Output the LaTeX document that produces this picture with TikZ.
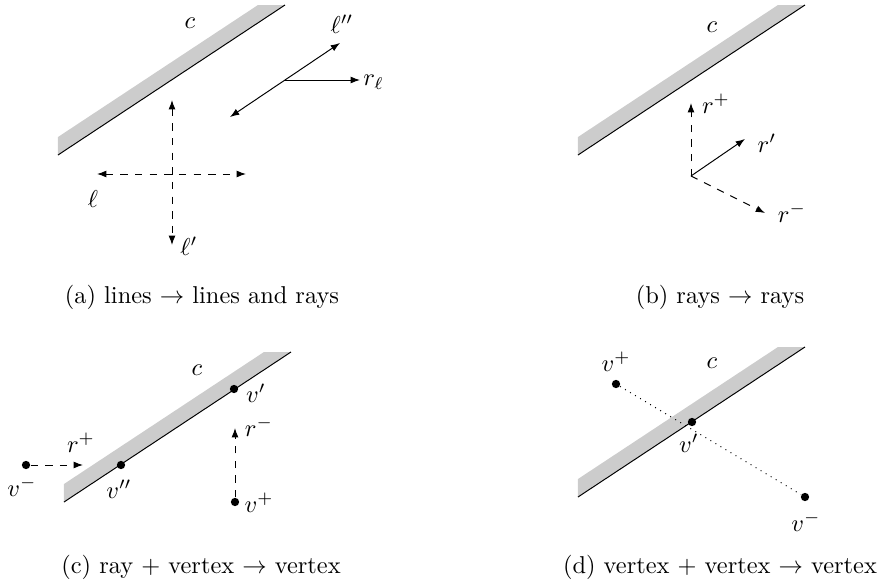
\documentclass[tikz,border=0pt]{standalone}
\usetikzlibrary{arrows.meta}
\begin{document}
\begin{tikzpicture}[x=0.41pt,y=-0.41pt,
  edgeline/.style={line width=0.4pt},
  vdot/.style={circle,fill=black,inner sep=0pt,minimum size=3.4pt},
  lbl/.style={inner sep=0pt},
  arr/.style={-{Latex[length=3.8pt,width=2.8pt]}},
  darr/.style={{Latex[length=3.8pt,width=2.8pt]}-{Latex[length=3.8pt,width=2.8pt]}},
  captxt/.style={inner sep=0pt}]
\useasboundingbox (0,0) rectangle (880,583);
% strip pic
\tikzset{strip/.pic={
  \fill[black!20] (58,155) -- (285,5) -- (258,5) -- (58,137) -- cycle;
  \draw[edgeline] (58,155) -- (285,5);
}}
% (a)
\pic at (0,0) {strip};
\node[lbl] (ca) at (190,23) {$c$};
\coordinate (l2a) at (230,117);
\coordinate (l2b) at (340,43);
\coordinate (rlo) at (285,80);
\coordinate (rlt) at (360,80);
\draw[darr] (l2a) -- (l2b);
\draw[arr] (rlo) -- (rlt);
\node[lbl] (l2) at (342,24) {$\ell''$};
\node[lbl,anchor=west] (rl) at (363,82) {$r_\ell$};
\coordinate (lva) at (172,100);
\coordinate (lvb) at (172,245);
\coordinate (lha) at (97,174);
\coordinate (lhb) at (246,174);
\draw[darr,dashed] (lva) -- (lvb);
\draw[darr,dashed] (lha) -- (lhb);
\node[lbl] (l) at (93,199) {$\ell$};
\node[lbl] (l1) at (189,246) {$\ell'$};
\node[captxt] (capa) at (202,297) {(a) lines $\rightarrow$ lines and rays};
% (b)
\pic at (520,0) {strip};
\node[lbl] (cb) at (712,27) {$c$};
\coordinate (o) at (691,176);
\coordinate (rpt) at (691,103);
\coordinate (r1t) at (745,139);
\coordinate (rmt) at (765,213);
\draw[arr,dashed] (o) -- (rpt);
\draw[arr] (o) -- (r1t);
\draw[arr,dashed] (o) -- (rmt);
\node[lbl] (rp) at (716,104) {$r^+$};
\node[lbl] (r1) at (767,143) {$r'$};
\node[lbl] (rm) at (792,213) {$r^-$};
\node[captxt] (capb) at (720,297) {(b) rays $\rightarrow$ rays};
% (c)
\pic at (6,347) {strip};
\node[lbl] (cc) at (197,370) {$c$};
\node[vdot] (cv1) at (234,389) {};
\node[lbl] at (256,393) {$v'$};
\node[vdot] (cv2) at (121,465) {};
\node[lbl] at (119,489) {$v''$};
\node[vdot] (cvm) at (26,465) {};
\node[lbl] at (22,487) {$v^-$};
\coordinate (crp) at (83,465);
\draw[arr,dashed] (cvm) -- (crp);
\node[lbl] at (81,443) {$r^+$};
\node[vdot] (cvp) at (235,502) {};
\node[lbl] at (259,503) {$v^+$};
\coordinate (crm) at (235,428);
\draw[arr,dashed] (cvp) -- (crm);
\node[lbl] at (259,427) {$r^-$};
\node[captxt] (capc) at (201,567) {(c) ray $+$ vertex $\rightarrow$ vertex};
% (d)
\pic at (520,342) {strip};
\node[lbl] (cd) at (712,363) {$c$};
\node[vdot] (dvp) at (616,384) {};
\node[lbl] at (616,362) {$v^+$};
\node[vdot] (dvm) at (805,497) {};
\node[lbl] at (806,522) {$v^-$};
\draw[dotted] (dvp) -- (dvm);
\node[vdot] (dv1) at (692,422) {};
\node[lbl] at (689,443) {$v'$};
\node[captxt] (capd) at (720,567) {(d) vertex $+$ vertex $\rightarrow$ vertex};
\end{tikzpicture}
\end{document}
